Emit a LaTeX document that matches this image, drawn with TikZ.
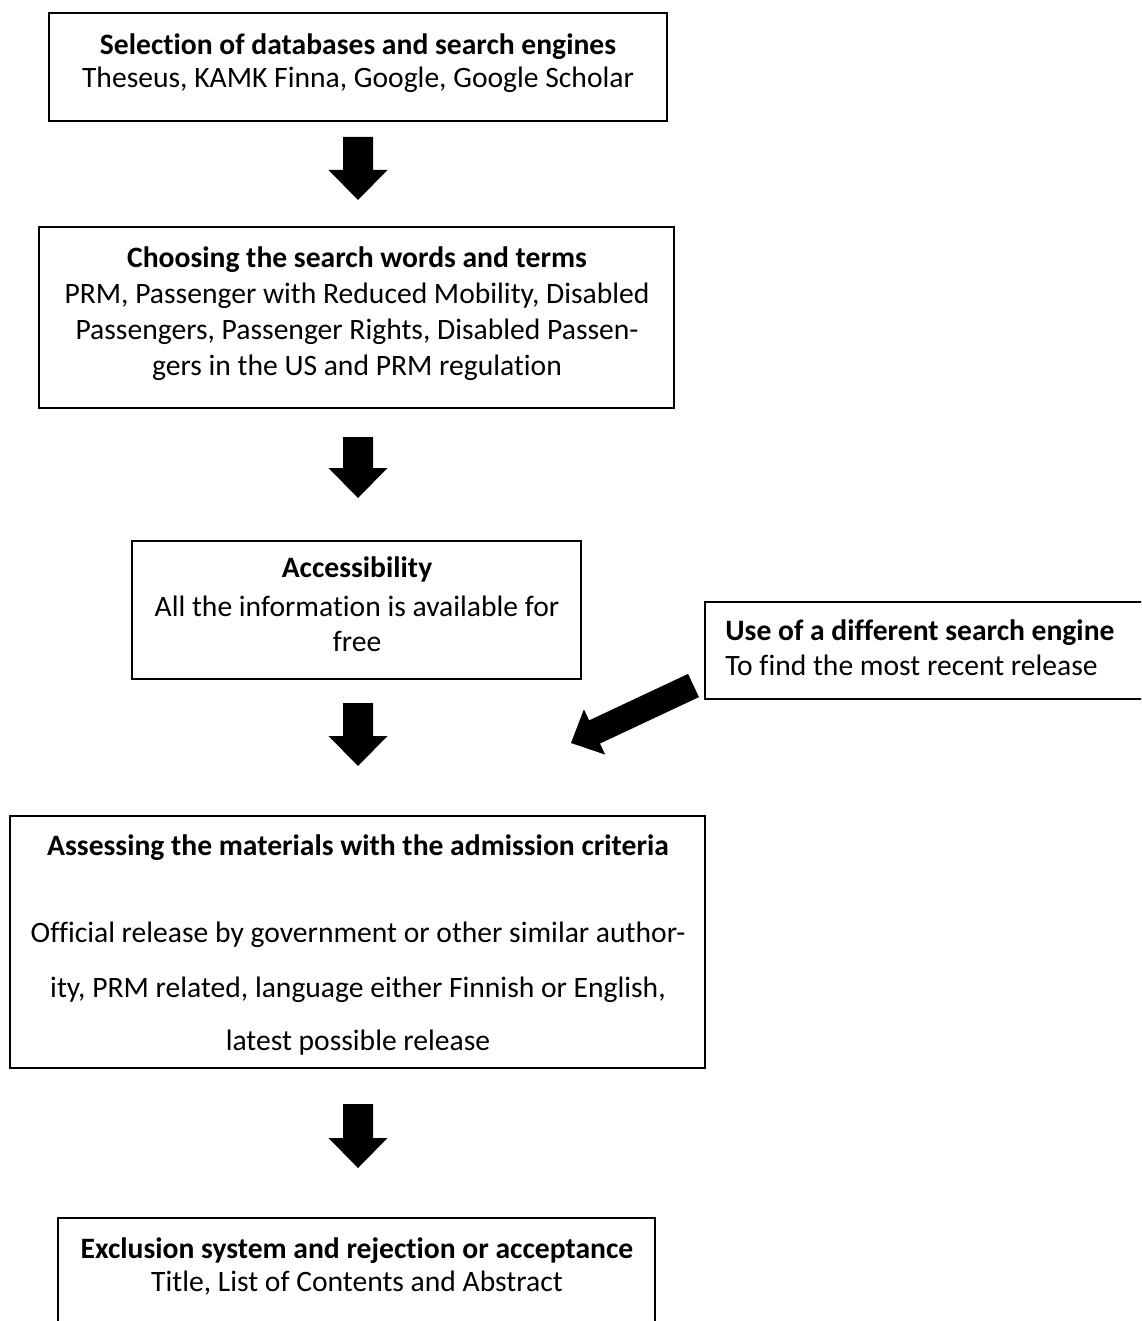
\documentclass[tikz,border=0pt]{standalone}
\usepackage{fontspec}
\setmainfont{Carlito}[Ligatures=NoCommon]
\usetikzlibrary{calc,fit}
\newcommand\blockarr[5]{%
  \coordinate (tmpH) at ($(#2)!#5!(#1)$);
  \fill ($(#1)!#3!90:(#2)$) -- ($(tmpH)!#3!90:(#2)$) -- ($(tmpH)!#4!90:(#2)$) -- (#2)
    -- ($(tmpH)!#4!-90:(#2)$) -- ($(tmpH)!#3!-90:(#2)$) -- ($(#1)!#3!-90:(#2)$) -- cycle;}
\tikzset{
  box/.style={draw, line width=0.65pt, inner sep=0pt, outer sep=0pt},
  txt/.style={inner sep=0pt, anchor=base, font=\fontsize{14.8pt}{17pt}\selectfont},
  btxt/.style={txt, font=\fontsize{14.8pt}{17pt}\selectfont\bfseries},
}
\begin{document}
\begin{tikzpicture}[x=0.5pt, y=-0.5pt]
\clip (0,0) rectangle (1141,1321);
\fill[white] (0,0) rectangle (1141,1321);

% boxes
\node[box, fit={(49,13) (667,121)}] (b1) {};
\node[box, fit={(39,227) (674,408)}] (b2) {};
\node[box, fit={(132,541) (581,679)}] (b3) {};
\node[box, fit={(705,602) (1170,699)}] (side) {};
\node[box, fit={(10,816) (705,1068)}] (b4) {};
\node[box, fit={(58,1218) (655,1350)}] (b5) {};

% texts
\node[btxt] (t11) at (358,55) {Selection of databases and search engines};
\node[txt] (t12) at (358,88) {Theseus, KAMK Finna, Google, Google Scholar};

\node[btxt] (t21) at (357,267) {Choosing the search words and terms};
\node[txt] (t22) at (357,303) {PRM, Passenger with Reduced Mobility, Disabled};
\node[txt] (t23) at (357,339) {Passengers, Passenger Rights, Disabled Passen-};
\node[txt] (t24) at (357,375) {gers in the US and PRM regulation};

\node[btxt] (t31) at (357,577) {Accessibility};
\node[txt] (t32) at (357,616) {All the information is available for};
\node[txt] (t33) at (357,651) {free};

\node[btxt, anchor=base west] (ts1) at (725,640) {Use of a different search engine};
\node[txt, anchor=base west] (ts2) at (725,675) {To find the most recent release};

\node[btxt] (t41) at (358,855) {Assessing the materials with the admission criteria};
\node[txt] (t42) at (358,942) {Official release by government or other similar author-};
\node[txt] (t43) at (358,997) {ity, PRM related, language either Finnish or English,};
\node[txt] (t44) at (358,1050) {latest possible release};

\node[btxt] (t51) at (357,1258) {Exclusion system and rejection or acceptance};
\node[txt] (t52) at (357,1291) {Title, List of Contents and Abstract};

% arrows
\coordinate (a1s) at ($(b1.south)+(0,16)$);
\coordinate (a1t) at ($(a1s |- b2.north)+(0,-27)$);
\blockarr{a1s}{a1t}{7.5pt}{14.75pt}{15pt}

\coordinate (a2s) at ($(b2.south)+(1.5,29)$);
\coordinate (a2t) at ($(a2s |- b3.north)+(0,-43)$);
\blockarr{a2s}{a2t}{7.5pt}{14.75pt}{15pt}

\coordinate (a3s) at ($(b3.south)+(1.5,24)$);
\coordinate (a3t) at ($(a3s |- b4.north)+(0,-50)$);
\blockarr{a3s}{a3t}{7.5pt}{14.75pt}{15pt}

\coordinate (a4s) at ($(b4.south)+(0.5,36)$);
\coordinate (a4t) at ($(a4s |- b5.north)+(0,-50)$);
\blockarr{a4s}{a4t}{7.5pt}{14.75pt}{15pt}

\coordinate (dgs) at ($(side.south west)+(-11.5,-13.5)$);
\coordinate (dgt) at (571,743);
\blockarr{dgs}{dgt}{6.4pt}{12.5pt}{13pt}
\end{tikzpicture}
\end{document}
